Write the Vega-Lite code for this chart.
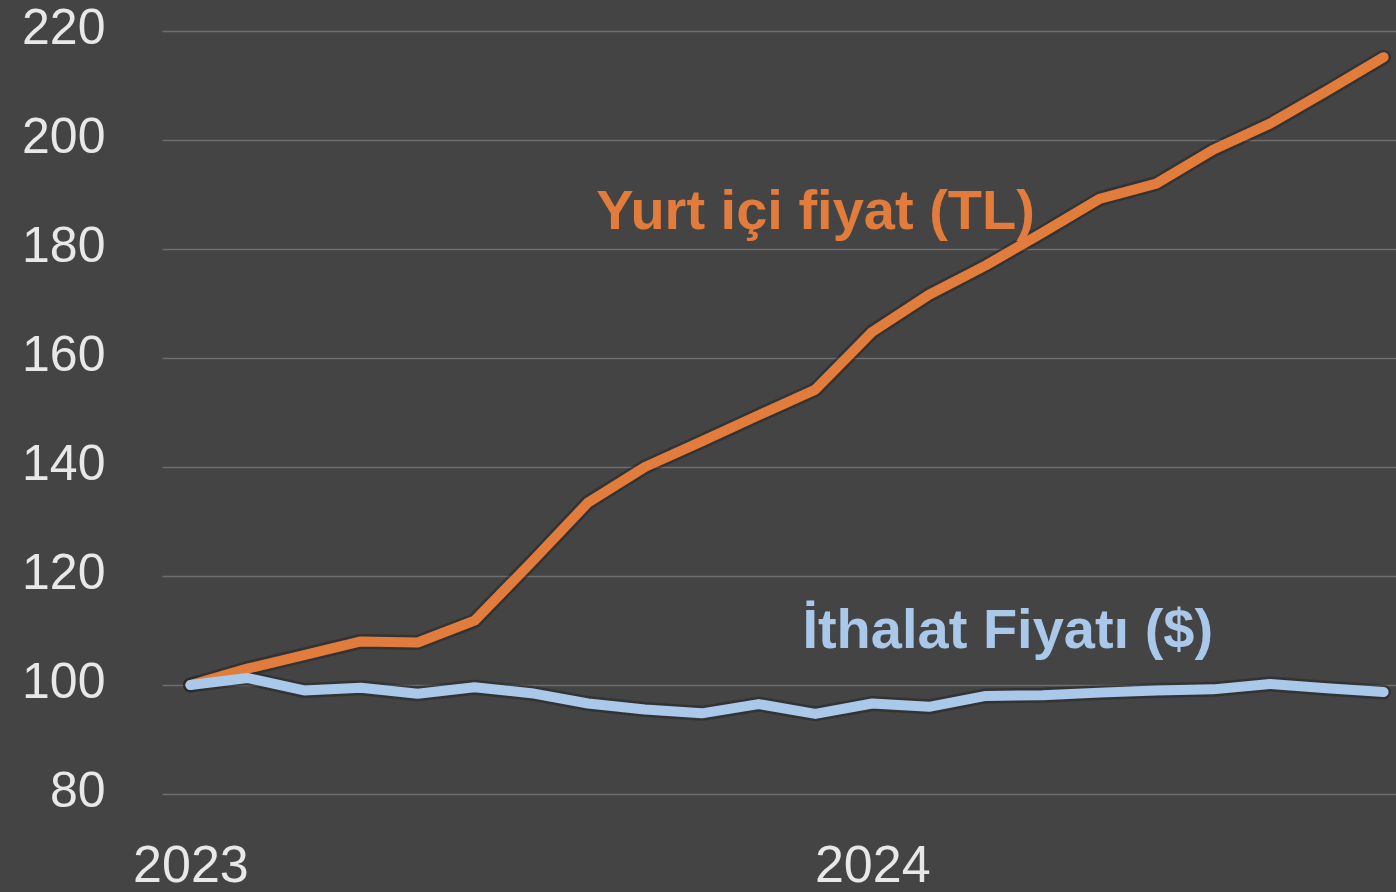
{
  "$schema": "https://vega.github.io/schema/vega-lite/v6.json",
  "autosize": {"type": "none"},
  "width": 1234,
  "height": 763,
  "padding": {"left": 162, "top": 31, "right": 0, "bottom": 98},
  "background": "#444444",
  "config": {
    "view": {"stroke": null},
    "font": "Liberation Sans"
  },
  "datasets": {
    "prices": [
      {"month": "2023-01", "series": "Yurt içi fiyat (TL)", "value": 100},
      {"month": "2023-02", "series": "Yurt içi fiyat (TL)", "value": 103},
      {"month": "2023-03", "series": "Yurt içi fiyat (TL)", "value": 105.5},
      {"month": "2023-04", "series": "Yurt içi fiyat (TL)", "value": 108},
      {"month": "2023-05", "series": "Yurt içi fiyat (TL)", "value": 107.8},
      {"month": "2023-06", "series": "Yurt içi fiyat (TL)", "value": 111.8},
      {"month": "2023-07", "series": "Yurt içi fiyat (TL)", "value": 122.5},
      {"month": "2023-08", "series": "Yurt içi fiyat (TL)", "value": 133.5},
      {"month": "2023-09", "series": "Yurt içi fiyat (TL)", "value": 140},
      {"month": "2023-10", "series": "Yurt içi fiyat (TL)", "value": 144.7},
      {"month": "2023-11", "series": "Yurt içi fiyat (TL)", "value": 149.5},
      {"month": "2023-12", "series": "Yurt içi fiyat (TL)", "value": 154.2},
      {"month": "2024-01", "series": "Yurt içi fiyat (TL)", "value": 164.8},
      {"month": "2024-02", "series": "Yurt içi fiyat (TL)", "value": 171.6},
      {"month": "2024-03", "series": "Yurt içi fiyat (TL)", "value": 177},
      {"month": "2024-04", "series": "Yurt içi fiyat (TL)", "value": 183},
      {"month": "2024-05", "series": "Yurt içi fiyat (TL)", "value": 189.2},
      {"month": "2024-06", "series": "Yurt içi fiyat (TL)", "value": 192},
      {"month": "2024-07", "series": "Yurt içi fiyat (TL)", "value": 198.2},
      {"month": "2024-08", "series": "Yurt içi fiyat (TL)", "value": 203},
      {"month": "2024-09", "series": "Yurt içi fiyat (TL)", "value": 209},
      {"month": "2024-10", "series": "Yurt içi fiyat (TL)", "value": 215.2},
      {"month": "2023-01", "series": "İthalat Fiyatı ($)", "value": 100},
      {"month": "2023-02", "series": "İthalat Fiyatı ($)", "value": 101.3},
      {"month": "2023-03", "series": "İthalat Fiyatı ($)", "value": 99},
      {"month": "2023-04", "series": "İthalat Fiyatı ($)", "value": 99.5},
      {"month": "2023-05", "series": "İthalat Fiyatı ($)", "value": 98.4},
      {"month": "2023-06", "series": "İthalat Fiyatı ($)", "value": 99.6},
      {"month": "2023-07", "series": "İthalat Fiyatı ($)", "value": 98.5},
      {"month": "2023-08", "series": "İthalat Fiyatı ($)", "value": 96.6},
      {"month": "2023-09", "series": "İthalat Fiyatı ($)", "value": 95.5},
      {"month": "2023-10", "series": "İthalat Fiyatı ($)", "value": 94.8},
      {"month": "2023-11", "series": "İthalat Fiyatı ($)", "value": 96.5},
      {"month": "2023-12", "series": "İthalat Fiyatı ($)", "value": 94.7},
      {"month": "2024-01", "series": "İthalat Fiyatı ($)", "value": 96.6},
      {"month": "2024-02", "series": "İthalat Fiyatı ($)", "value": 96},
      {"month": "2024-03", "series": "İthalat Fiyatı ($)", "value": 98},
      {"month": "2024-04", "series": "İthalat Fiyatı ($)", "value": 98.1},
      {"month": "2024-05", "series": "İthalat Fiyatı ($)", "value": 98.6},
      {"month": "2024-06", "series": "İthalat Fiyatı ($)", "value": 99},
      {"month": "2024-07", "series": "İthalat Fiyatı ($)", "value": 99.2},
      {"month": "2024-08", "series": "İthalat Fiyatı ($)", "value": 100.2},
      {"month": "2024-09", "series": "İthalat Fiyatı ($)", "value": 99.4},
      {"month": "2024-10", "series": "İthalat Fiyatı ($)", "value": 98.7}
    ],
    "labels": [
      {"month": "2023-08", "series": "Yurt içi fiyat (TL)", "value": 183.7},
      {"month": "2023-12", "series": "İthalat Fiyatı ($)", "value": 106.8}
    ]
  },
  "encoding": {
    "x": {
      "field": "month",
      "type": "ordinal",
      "sort": "ascending",
      "scale": {"type": "point", "padding": 0.5, "range": [0, 1250]},
      "axis": {
        "title": null,
        "domain": false,
        "ticks": false,
        "grid": false,
        "labelAngle": 0,
        "labelExpr": "datum.value == '2023-01' ? '2023' : (datum.value == '2024-01' ? '2024' : '')",
        "labelFont": "Liberation Sans",
        "labelFontSize": 52,
        "labelColor": "#e8e8e8",
        "labelBaseline": "alphabetic",
        "labelPadding": 87,
        "labelOverlap": false,
        "labelBound": false,
        "labelFlush": false
      }
    },
    "y": {
      "field": "value",
      "type": "quantitative",
      "scale": {"domain": [80, 220], "nice": false, "zero": false},
      "axis": {
        "title": null,
        "values": [80, 100, 120, 140, 160, 180, 200, 220],
        "domain": false,
        "ticks": false,
        "grid": true,
        "gridColor": "#6e6e6e",
        "gridWidth": 1.5,
        "labelFont": "Liberation Sans",
        "labelFontSize": 50,
        "labelColor": "#e8e8e8",
        "labelPadding": 57,
        "labelOffset": -3,
        "labelBaseline": "middle"
      }
    }
  },
  "layer": [
    {
      "data": {"name": "prices"},
      "mark": {"type": "line", "stroke": "#1e1e1e", "opacity": 0.45, "strokeWidth": 15, "strokeCap": "round", "strokeJoin": "round", "clip": true},
      "encoding": {"detail": {"field": "series"}}
    },
    {
      "data": {"name": "prices"},
      "mark": {"type": "line", "strokeWidth": 10, "strokeCap": "round", "strokeJoin": "round", "clip": true},
      "encoding": {
        "color": {
          "field": "series",
          "type": "nominal",
          "scale": {"domain": ["Yurt içi fiyat (TL)", "İthalat Fiyatı ($)"], "range": ["#e27c3c", "#a9c8ea"]},
          "legend": null
        }
      }
    },
    {
      "data": {"name": "labels"},
      "transform": [{"filter": "datum.month == '2023-08'"}],
      "mark": {"type": "text", "align": "left", "baseline": "alphabetic", "dx": 8, "fontSize": 56, "fontWeight": "bold", "font": "Liberation Sans"},
      "encoding": {
        "text": {"field": "series"},
        "color": {"field": "series", "type": "nominal", "legend": null}
      }
    },
    {
      "data": {"name": "labels"},
      "transform": [{"filter": "datum.month == '2023-12'"}],
      "mark": {"type": "text", "align": "left", "baseline": "alphabetic", "dx": -13, "fontSize": 56, "fontWeight": "bold", "font": "Liberation Sans"},
      "encoding": {
        "text": {"field": "series"},
        "color": {"field": "series", "type": "nominal", "legend": null}
      }
    }
  ]
}
